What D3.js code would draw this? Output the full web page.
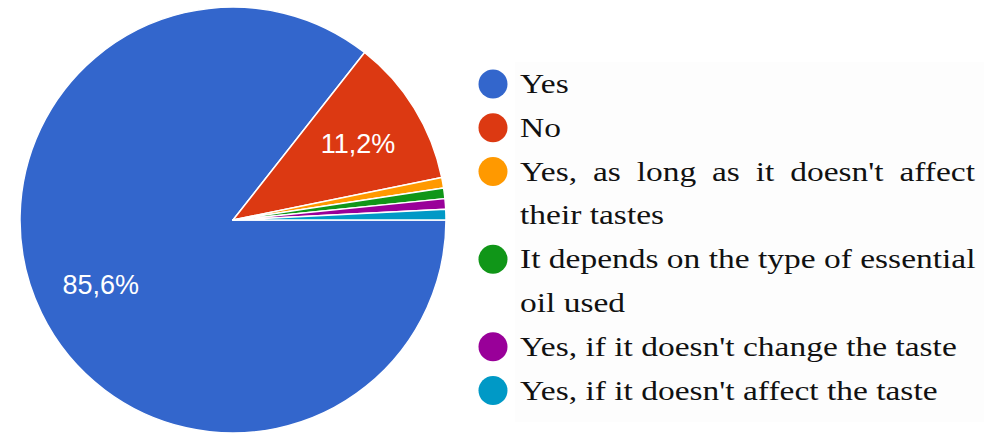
<!DOCTYPE html>
<html>
<head>
<meta charset="utf-8">
<script src="https://cdn.jsdelivr.net/npm/d3@7"></script>
<style>
  body { margin: 0; background: #fff; }
  svg { display: block; }
</style>
</head>
<body>
<svg width="984" height="434"></svg>
<script>
// answers, shares (%) and slice colours
var categories = ["Yes", "No", "Yes, as long as it doesn't affect their tastes",
                  "It depends on the type of essential oil used",
                  "Yes, if it doesn't change the taste", "Yes, if it doesn't affect the taste"];
var values = [85.6, 11.2, 0.8, 0.8, 0.8, 0.8];
var colors = ["#3366cc", "#dc3912", "#ff9900", "#109618", "#990099", "#0099c6"];
// legend lines as they wrap in the picture
var legendLines = [["Yes"], ["No"], ["Yes, as long as it doesn't affect", "their tastes"],
                   ["It depends on the type of essential", "oil used"],
                   ["Yes, if it doesn't change the taste"], ["Yes, if it doesn't affect the taste"]];

var svg = d3.select("svg"),
    cx = 233, cy = 220, radius = 213;

var data = categories.map(function(c, i) { return {name: c, value: values[i], color: colors[i]}; });

var pie = d3.pie()
    .sort(null)
    .value(function(d) { return d.value; })
    .startAngle(Math.PI / 2)
    .endAngle(Math.PI / 2 + 2 * Math.PI);

var arc = d3.arc().innerRadius(0).outerRadius(radius);
var labelArc = d3.arc().innerRadius(radius * 0.69).outerRadius(radius * 0.69);

var g = svg.append("g").attr("transform", "translate(" + cx + "," + cy + ")");

var arcs = pie(data);

g.selectAll("path")
    .data(arcs)
    .enter().append("path")
    .attr("d", arc)
    .attr("fill", function(d) { return d.data.color; })
    .attr("stroke", "#fff")
    .attr("stroke-width", 1.5)
    .attr("stroke-linejoin", "round");

g.selectAll("text.pct")
    .data(arcs.filter(function(d) { return d.data.value > 5; }))
    .enter().append("text")
    .attr("class", "pct")
    .attr("transform", function(d) { return "translate(" + labelArc.centroid(d) + ")"; })
    .attr("text-anchor", "middle")
    .attr("dy", "0.36em")
    .attr("fill", "#fff")
    .style("font-family", "Liberation Sans, Arial, sans-serif")
    .style("font-size", "27px")
    .text(function(d) { return d3.format(".1f")(d.data.value).replace(".", ",") + "%"; });

// legend (the text in the picture is stretched sideways)
var legend = svg.append("g");
legend.append("rect")
    .attr("x", 515).attr("y", 62)
    .attr("width", 469).attr("height", 360)
    .attr("fill", "#fdfdfd");

var textX = 520, rightEdge = 975, lineStep = 43.8, firstBase = 93, stretch = 1.24;
var line = 0;
legendLines.forEach(function(lines, i) {
    var base = firstBase + line * lineStep;
    legend.append("circle")
        .attr("cx", 493).attr("cy", base - 9)
        .attr("r", 14.5)
        .attr("fill", colors[i]);
    lines.forEach(function(t, j) {
        var txt = legend.append("text")
            .attr("transform", "translate(" + textX + "," + (firstBase + (line + j) * lineStep) + ") scale(" + stretch + ",1)")
            .attr("fill", "#111")
            .style("font-family", "'Liberation Serif', 'Times New Roman', serif")
            .style("font-size", "27px")
            .text(t);
        // wrapped lines are justified to the right edge
        if (lines.length > 1 && j < lines.length - 1) {
            var gaps = t.split(" ").length - 1;
            var len = txt.node().getComputedTextLength();
            txt.attr("word-spacing", Math.max(0, ((rightEdge - textX) / stretch - len) / gaps));
        }
    });
    line += lines.length;
});
</script>
</body>
</html>
